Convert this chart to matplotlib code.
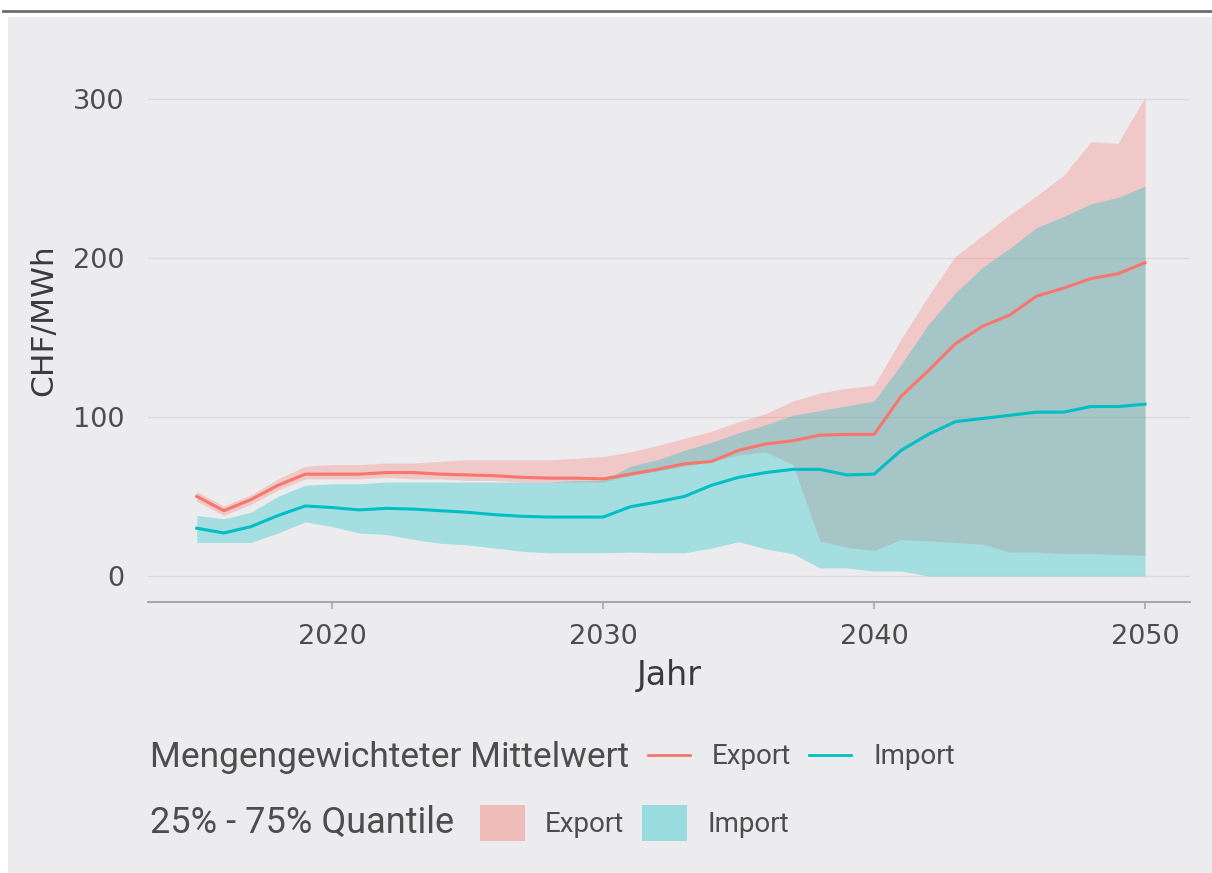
import matplotlib
matplotlib.use('Agg')
import matplotlib.pyplot as plt
from matplotlib.patches import Rectangle, Patch
from matplotlib.lines import Line2D

# Data (CHF/MWh)
years = list(range(2015, 2051))

export_mean = [50, 41, 48, 57, 64, 64, 64, 65, 65, 64, 63.5, 63, 62, 61.5, 61.5, 61,
               64, 67, 70.5, 72, 79, 83, 85, 88.5, 89, 89,
               113, 129, 146, 157, 164, 176, 181, 187, 190, 197]
export_lo = [47, 38, 45, 54, 61, 61, 61, 62, 61, 61, 60, 60, 59, 59, 59, 59,
             63, 66, 69, 72, 76, 78, 70, 22, 18, 16,
             23, 22, 21, 20, 15, 15, 14, 14, 13.5, 13]
export_hi = [53, 44, 51, 61, 69, 70, 70, 71, 71, 72, 73, 73, 73, 73, 74, 75,
             78, 82, 86.5, 91, 97, 102, 110, 115, 118, 120,
             149, 176, 201, 214, 227, 239, 252, 273, 272, 301]

import_mean = [30, 27, 31, 38, 44, 43, 41.5, 42.5, 42, 41, 40, 38.5, 37.5, 37, 37, 37,
               43.5, 46.5, 50, 57, 62, 65, 67, 67, 63.5, 64,
               79, 89, 97, 99, 101, 103, 103, 106.5, 106.5, 108]
import_lo = [21, 21, 21, 27, 34, 31, 27, 26, 23, 20.5, 19.5, 17.5, 15.5, 14.5, 14.5, 14.5,
             15, 14.5, 14.5, 17.5, 21.5, 17, 14, 5, 5, 3,
             3, 0, 0, 0, 0, 0, 0, 0, 0, 0]
import_hi = [38, 36, 40, 50, 57, 58, 58, 59, 59, 59, 59, 59, 59, 59, 60, 60,
             69, 73, 79, 84, 90, 95, 101, 104, 107, 110,
             133, 158, 178, 194, 206, 219, 226, 234, 238, 245]

RED = '#F8766D'
TEAL = '#00BFC4'
BG = '#ECECEE'
TXT = '#4D4D4D'
LEG_FONT = 'Roboto'

plt.rcParams['font.family'] = ['DejaVu Sans']

fig = plt.figure(figsize=(12.12, 8.73), dpi=100, facecolor='white')

# grey panel and top rule (behind the axes)
fig.patches.append(Rectangle((8 / 1212, 0), 1, 1 - 17 / 873, transform=fig.transFigure,
                             facecolor=BG, edgecolor='none', zorder=-10))
fig.add_artist(Line2D([3 / 1212, 1], [1 - 11 / 873, 1 - 11 / 873], transform=fig.transFigure,
                      color='#666E75', lw=2))

ax = fig.add_axes([148 / 1212, 1 - 602 / 873, (1190 - 148) / 1212, (602 - 75) / 873])
ax.set_facecolor('none')
ax.set_zorder(1)

ax.fill_between(years, export_lo, export_hi, color=RED, alpha=0.3, lw=0)
ax.fill_between(years, import_lo, import_hi, color=TEAL, alpha=0.3, lw=0)
ax.plot(years, export_mean, color=RED, lw=2.2)
ax.plot(years, import_mean, color=TEAL, lw=2.2)

ax.set_xlim(2013.2, 2051.66)
ax.set_ylim(-16.4, 315)
ax.set_xticks([2020, 2030, 2040, 2050])
ax.set_yticks([0, 100, 200, 300])
ax.grid(axis='y', color='#DADADC', lw=0.9)
ax.set_axisbelow(True)

for s in ['top', 'right', 'left']:
    ax.spines[s].set_visible(False)
ax.spines['bottom'].set_color('#A8A8A8')
ax.spines['bottom'].set_linewidth(1.5)
ax.tick_params(axis='x', colors='#A8A8A8', length=5, width=1.2, labelsize=19.5,
               labelcolor=TXT, pad=11)
ax.tick_params(axis='y', length=0, labelsize=19.5, labelcolor=TXT, pad=17)

ax.set_xlabel('Jahr', fontsize=24, color='#3A3A3A', labelpad=6)
ax.set_ylabel('CHF/MWh', fontsize=22.5, color='#3A3A3A')
ax.yaxis.set_label_coords(-0.086, 0.535)

# legend rows
fig.text(150 / 1212, 1 - 757 / 873, 'Mengengewichteter Mittelwert', family=LEG_FONT,
         fontsize=25.5, color=TXT, va='center', ha='left')
fig.text(150 / 1212, 1 - 823 / 873, '25% - 75% Quantile', family=LEG_FONT,
         fontsize=26, color=TXT, va='center', ha='left')

h1 = [Line2D([], [], color=RED, lw=2), Line2D([], [], color=TEAL, lw=2)]
leg1 = fig.legend(h1, ['Export', 'Import'], ncol=2, frameon=False,
                  loc='center left', bbox_to_anchor=(648 / 1212, 1 - 757 / 873),
                  prop={'family': LEG_FONT, 'size': 20}, handlelength=1.5,
                  handletextpad=0.8, columnspacing=0.65, borderpad=0, borderaxespad=0)
for t in leg1.get_texts():
    t.set_color(TXT)

h2 = [Patch(facecolor=RED, alpha=0.4, lw=0), Patch(facecolor=TEAL, alpha=0.35, lw=0)]
leg2 = fig.legend(h2, ['Export', 'Import'], ncol=2, frameon=False,
                  loc='center left', bbox_to_anchor=(480 / 1212, 1 - 823 / 873),
                  prop={'family': LEG_FONT, 'size': 20}, handlelength=1.62, handleheight=1.62,
                  handletextpad=0.72, columnspacing=0.65, borderpad=0, borderaxespad=0)
for t in leg2.get_texts():
    t.set_color(TXT)

fig.savefig('out.png', dpi=100, facecolor='white')
